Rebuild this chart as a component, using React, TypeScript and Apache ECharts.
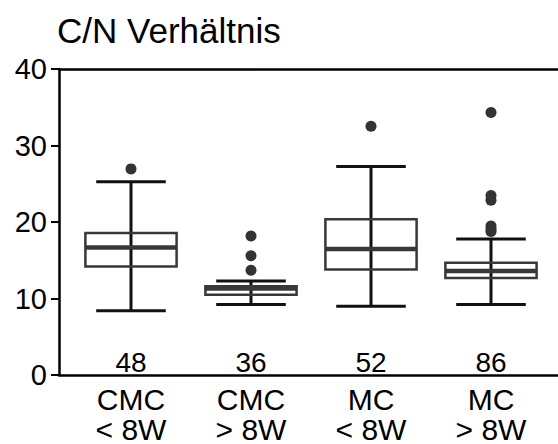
import React, { useEffect, useRef } from "react";
import * as echarts from "echarts";

// Groups along the x axis and the number of samples per group
const categories = ["CMC\n< 8W", "CMC\n> 8W", "MC\n< 8W", "MC\n> 8W"];
const sampleCounts = [48, 36, 52, 86];

// Box-and-whisker statistics of the C/N ratio per group
const whiskerLow = [8.3, 9.1, 8.9, 9.1];
const quartile1 = [14.1, 10.4, 13.7, 12.6];
const median = [16.6, 11.2, 16.4, 13.5];
const quartile3 = [18.5, 11.5, 20.3, 14.6];
const whiskerHigh = [25.2, 12.2, 27.2, 17.7];

// Outliers beyond the whiskers, per group
const outliers = [
  [26.9],
  [18.1, 15.5, 13.6],
  [32.5],
  [34.3, 23.4, 22.8, 19.4, 19.0, 18.7],
];

const yTicks = [0, 10, 20, 30, 40];

const FONT = "'Liberation Sans', Arial, Helvetica, sans-serif";

export default function App() {
  const ref = useRef<HTMLDivElement>(null);

  useEffect(() => {
    if (!ref.current) return;
    const chart = echarts.init(ref.current, undefined, { renderer: "svg" });

    const boxData = categories.map((_, i) => [
      i,
      whiskerLow[i],
      quartile1[i],
      median[i],
      quartile3[i],
      whiskerHigh[i],
    ]);
    const outlierData: number[][] = [];
    outliers.forEach((vals, i) => vals.forEach((v) => outlierData.push([i, v])));

    const renderBox = (params: any, api: any) => {
      const x = api.value(0);
      const lo = api.coord([x, api.value(1)]);
      const q1 = api.coord([x, api.value(2)]);
      const md = api.coord([x, api.value(3)]);
      const q3 = api.coord([x, api.value(4)]);
      const hi = api.coord([x, api.value(5)]);
      const band = api.size([1, 0])[0];
      const halfBox = band * 0.38;
      const halfCap = band * 0.29;
      const cx = lo[0];
      const whisker = { stroke: "#111", lineWidth: 3, fill: null };
      const boxStroke = "#383838";
      return {
        type: "group",
        children: [
          { type: "line", shape: { x1: cx, y1: lo[1], x2: cx, y2: hi[1] }, style: whisker },
          { type: "line", shape: { x1: cx - halfCap, y1: lo[1], x2: cx + halfCap, y2: lo[1] }, style: whisker },
          { type: "line", shape: { x1: cx - halfCap, y1: hi[1], x2: cx + halfCap, y2: hi[1] }, style: whisker },
          {
            type: "rect",
            shape: { x: cx - halfBox, y: q3[1], width: halfBox * 2, height: q1[1] - q3[1] },
            style: { fill: "none", stroke: boxStroke, lineWidth: 2.5 },
          },
          {
            type: "line",
            shape: { x1: cx - halfBox, y1: md[1], x2: cx + halfBox, y2: md[1] },
            style: { stroke: boxStroke, lineWidth: 4.5 },
          },
        ],
      };
    };

    const frameLine = { show: true, lineStyle: { color: "#000", width: 2.5 } };

    chart.setOption({
      animation: false,
      backgroundColor: "#fff",
      textStyle: { fontFamily: FONT },
      title: {
        text: "C/N Verhältnis",
        left: 52,
        top: 8,
        textStyle: { fontFamily: FONT, fontSize: 35, fontWeight: "normal", color: "#000" },
      },
      grid: [
        { left: 59, right: 0, top: 69, bottom: 69 },
        { left: 71, right: 7, top: 69, bottom: 69 },
      ],
      xAxis: [
        {
          gridIndex: 0,
          type: "value",
          position: "bottom",
          min: 0,
          max: 1,
          axisLine: frameLine,
          axisTick: { show: false },
          axisLabel: { show: false },
          splitLine: { show: false },
        },
        {
          gridIndex: 0,
          type: "value",
          position: "top",
          min: 0,
          max: 1,
          axisLine: frameLine,
          axisTick: { show: false },
          axisLabel: { show: false },
          splitLine: { show: false },
        },
        {
          gridIndex: 1,
          type: "category",
          position: "bottom",
          data: categories,
          axisLine: { show: false },
          axisTick: { show: false },
          axisLabel: {
            fontFamily: FONT,
            fontSize: 30,
            lineHeight: 30,
            color: "#000",
            margin: 10,
          },
        },
        {
          gridIndex: 1,
          type: "category",
          position: "bottom",
          data: sampleCounts.map(String),
          axisLine: { show: false },
          axisTick: { show: false },
          axisLabel: {
            inside: true,
            fontFamily: FONT,
            fontSize: 28,
            color: "#000",
            margin: -2,
          },
        },
      ],
      yAxis: [
        {
          gridIndex: 0,
          type: "value",
          min: yTicks[0],
          max: yTicks[yTicks.length - 1],
          interval: 10,
          axisLine: frameLine,
          axisTick: { show: true, length: 8, lineStyle: { color: "#000", width: 2 } },
          axisLabel: { fontFamily: FONT, fontSize: 29, color: "#000", margin: 12 },
          splitLine: { show: false },
        },
        {
          gridIndex: 1,
          type: "value",
          min: yTicks[0],
          max: yTicks[yTicks.length - 1],
          show: false,
        },
      ],
      series: [
        {
          type: "custom",
          xAxisIndex: 2,
          yAxisIndex: 1,
          renderItem: renderBox,
          encode: { x: 0, y: [1, 2, 3, 4, 5] },
          data: boxData,
        },
        {
          type: "scatter",
          xAxisIndex: 2,
          yAxisIndex: 1,
          symbolSize: 11,
          itemStyle: { color: "#333", opacity: 1 },
          data: outlierData,
        },
      ],
    });

    return () => chart.dispose();
  }, []);

  return <div ref={ref} style={{ width: 558, height: 444, position: "absolute", left: 0, top: 0 }} />;
}
